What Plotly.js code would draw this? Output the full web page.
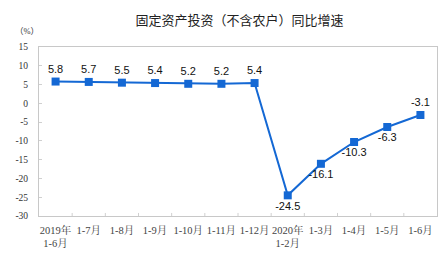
<!DOCTYPE html>
<html><head><meta charset="utf-8">
<script src="https://cdn.plot.ly/plotly-3.0.1.min.js"></script>
<style>html,body{margin:0;padding:0;background:#fff;}#c{width:445px;height:253px;}</style>
</head><body><div id="c"></div>
<script>
var categories = ["2019年<br>1-6月","1-7月","1-8月","1-9月","1-10月","1-11月","1-12月","2020年<br>1-2月","1-3月","1-4月","1-5月","1-6月"];
var values = [5.8,5.7,5.5,5.4,5.2,5.2,5.4,-24.5,-16.1,-10.3,-6.3,-3.1];
var labelPos = ["top center","top center","top center","top center","top center","top center","top center","bottom center","bottom center","bottom center","bottom center","top center"];
var yTicks = [15,10,5,0,-5,-10,-15,-20,-25,-30];
var idx = categories.map(function(_, i){return i;});
var trace = {
  x: idx, y: values, type: "scatter", mode: "lines+markers+text",
  text: values.map(function(v){return v.toFixed(1);}),
  textposition: labelPos,
  textfont: {family: "Liberation Sans, Arial, sans-serif", size: 11, color: "#111"},
  line: {color: "#1468d4", width: 2},
  marker: {symbol: "square", size: 8, color: "#1468d4"},
  cliponaxis: false, hoverinfo: "none"
};
var layout = {
  width: 445, height: 253,
  margin: {l: 39, r: 8, t: 47, b: 37},
  paper_bgcolor: "#fff", plot_bgcolor: "#fff",
  showlegend: false,
  title: {text: "固定资产投资（不含农户）同比增速", x: 0.538, xanchor: "center", y: 0.918, yanchor: "middle",
          font: {family: "Noto Sans CJK SC, sans-serif", size: 13, color: "#222"}},
  xaxis: {
    range: [-0.5, 11.5], tickmode: "array", tickvals: idx, ticktext: categories,
    showgrid: false, zeroline: false, showline: true, linecolor: "#c8c8c8", linewidth: 1, mirror: true,
    ticks: "", ticklabelstandoff: 4,
    tickfont: {family: "Liberation Serif, Noto Serif CJK SC, Noto Sans CJK SC, serif", size: 10.5, color: "#444"},
    fixedrange: true
  },
  yaxis: {
    range: [-30, 15], tickmode: "array", tickvals: yTicks, ticktext: yTicks.map(String),
    showgrid: false, zeroline: false, showline: true, linecolor: "#c8c8c8", linewidth: 1, mirror: true,
    ticks: "inside", ticklen: 3, tickcolor: "#d0d0d0", ticklabelstandoff: 8,
    tickfont: {family: "Liberation Serif, serif", size: 9.5, color: "#333"},
    fixedrange: true
  },
  annotations: [{text: "（%）", xref: "paper", yref: "paper", x: -0.03, y: 1.095, xanchor: "center", yanchor: "middle", showarrow: false,
    font: {family: "Liberation Serif, Noto Sans CJK SC, serif", size: 8.5, color: "#333"}}],
  shapes: idx.slice(0, -1).map(function(i){
    return {type: "line", xref: "x", yref: "paper", x0: i + 0.5, x1: i + 0.5, y0: 0, y1: 0.018, line: {color: "#d0d0d0", width: 1}};
  })
};
Plotly.newPlot("c", [trace], layout, {displayModeBar: false, staticPlot: true});
</script></body></html>
